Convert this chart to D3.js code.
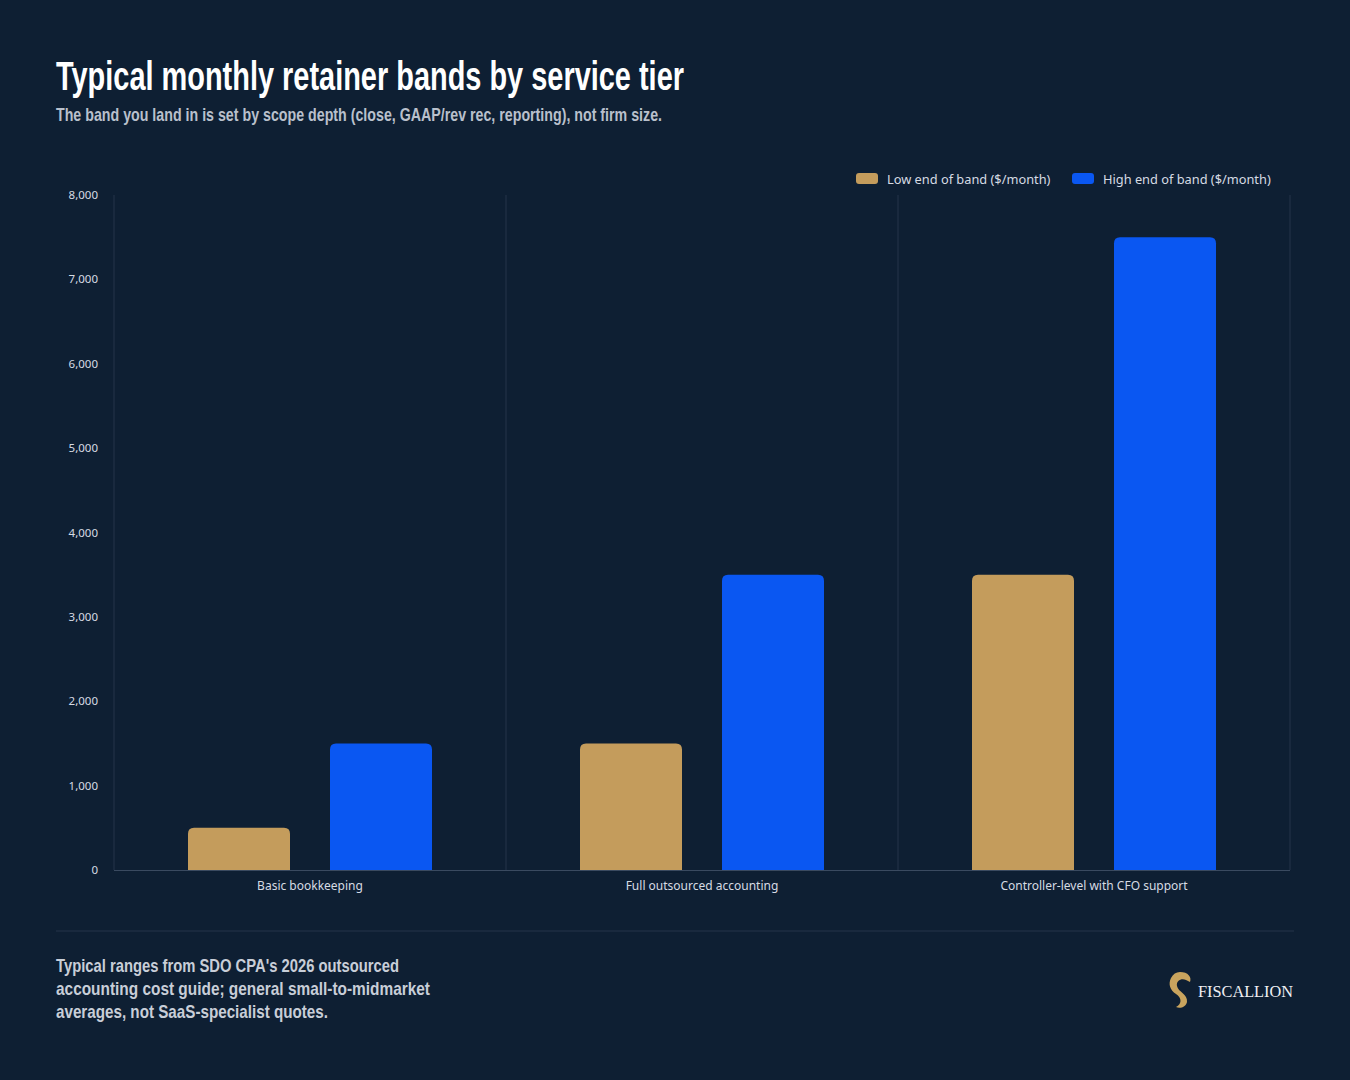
<!DOCTYPE html>
<html><head><meta charset="utf-8">
<script src="https://cdn.jsdelivr.net/npm/d3@7"></script>
<style>
body{margin:0;background:#0e1f33;}
.cond{font-family:"Liberation Sans Narrow","Liberation Sans",sans-serif;font-weight:bold;}
</style></head>
<body><svg id="chart" width="1350" height="1080"></svg>
<script>
const categories = ['Basic bookkeeping', 'Full outsourced accounting', 'Controller-level with CFO support']
const lowValues = [500, 1500, 3500]
const highValues = [1500, 3500, 7500]
const seriesNames = ['Low end of band ($/month)', 'High end of band ($/month)']
const yTicks = [0, 1000, 2000, 3000, 4000, 5000, 6000, 7000, 8000]
const colors = ['#c49c5c', '#0a57f2']

const svg = d3.select('#chart')
svg.append('rect').attr('width', 1350).attr('height', 1080).attr('fill', '#0e1f33')

// condensed look: squeeze glyphs horizontally
function squeeze (sel, w) {
  sel.attr('lengthAdjust', 'spacingAndGlyphs').attr('textLength', w)
}
svg.append('text').attr('class', 'cond').attr('x', 56).attr('y', 90)
  .attr('fill', '#fff').attr('font-size', 41).text('Typical monthly retainer bands by service tier')
  .call(squeeze, 628)
svg.append('text').attr('class', 'cond').attr('x', 56).attr('y', 121)
  .attr('fill', '#b9c0cc').attr('font-size', 19)
  .text('The band you land in is set by scope depth (close, GAAP/rev rec, reporting), not firm size.')
  .call(squeeze, 606)

const x = d3.scaleBand().domain(categories).range([114, 1290])
const y = d3.scaleLinear().domain([0, 8000]).range([870, 195])

svg.selectAll('.sep').data([114, 506, 898, 1290]).enter().append('line')
  .attr('x1', d => d).attr('x2', d => d).attr('y1', 195).attr('y2', 870)
  .attr('stroke', '#24344a').attr('stroke-width', 1)
svg.append('line').attr('x1', 114).attr('x2', 1290).attr('y1', 870.5).attr('y2', 870.5)
  .attr('stroke', '#3a4a60')

svg.selectAll('.yt').data(yTicks).enter().append('text')
  .attr('x', 98).attr('y', d => y(d) + 4).attr('text-anchor', 'end')
  .attr('font-family', 'Noto Sans').attr('font-size', 11.5).attr('fill', '#d6dbe3')
  .text(d => d3.format(',')(d))

svg.selectAll('.xt').data(categories).enter().append('text')
  .attr('x', d => x(d) + x.bandwidth() / 2).attr('y', 890).attr('text-anchor', 'middle')
  .attr('font-family', 'Noto Sans').attr('font-size', 12).attr('fill', '#d6dbe3')
  .text(d => d)

function barPath (cx, v, w) {
  const x0 = cx - w / 2; const x1 = cx + w / 2; const t = y(v); const b = y(0); const r = 6
  return `M${x0},${b}V${t + r}Q${x0},${t} ${x0 + r},${t}H${x1 - r}Q${x1},${t} ${x1},${t + r}V${b}Z`
}
const series = [lowValues, highValues]
series.forEach((vals, si) => {
  svg.selectAll('.bar' + si).data(categories).enter().append('path')
    .attr('d', (c, i) => barPath(x(c) + x.bandwidth() / 2 + (si ? 71 : -71), vals[i], 102))
    .attr('fill', colors[si])
})

const lx = [856, 1072]
seriesNames.forEach((n, i) => {
  svg.append('rect').attr('x', lx[i]).attr('y', 173).attr('width', 22).attr('height', 11)
    .attr('rx', 3).attr('fill', colors[i])
  svg.append('text').attr('x', lx[i] + 31).attr('y', 183.5)
    .attr('font-family', 'Noto Sans').attr('font-size', 12.8).attr('fill', '#d6dbe3').text(n)
})

svg.append('line').attr('x1', 56).attr('x2', 1294).attr('y1', 931).attr('y2', 931).attr('stroke', '#24344a')
const foot = ["Typical ranges from SDO CPA's 2026 outsourced", 'accounting cost guide; general small-to-midmarket', 'averages, not SaaS-specialist quotes.']
const footW = [343, 374, 272]
svg.selectAll('.ft').data(foot).enter().append('text').attr('class', 'cond')
  .attr('x', 56).attr('y', (d, i) => 972 + i * 23).attr('font-size', 19).attr('fill', '#c8ced8')
  .attr('lengthAdjust', 'spacingAndGlyphs').attr('textLength', (d, i) => footW[i])
  .text(d => d)

const lg = svg.append('g').attr('transform', 'translate(1168,972)')
lg.append('path').attr('fill', '#c9a45e')
  .attr('d', 'M12,0 C20,0 24,5 22,10 L18,8 C14,6 8,8 9,14 C10,20 20,22 19,30 C18,35 12,37 8,35 C14,32 14,26 8,22 C2,18 0,12 3,6 C5,2 8,0 12,0 Z')
lg.append('text').attr('x', 30).attr('y', 25).attr('font-family', 'Liberation Serif')
  .attr('font-size', 17).attr('fill', '#eef0f4')
  .attr('lengthAdjust', 'spacingAndGlyphs').attr('textLength', 95).text('FISCALLION')
</script></body></html>
